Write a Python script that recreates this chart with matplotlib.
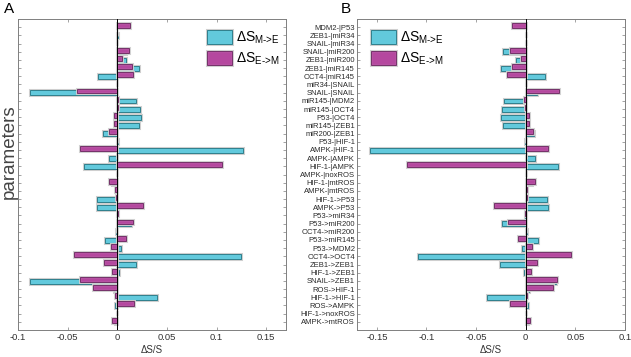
import numpy as np
import matplotlib
matplotlib.use("Agg")
import matplotlib.pyplot as plt
import matplotlib.patheffects as pe

plt.rcParams["font.family"] = ["Liberation Sans", "DejaVu Sans"]
plt.rcParams["mathtext.fontset"] = "custom"
plt.rcParams["mathtext.rm"] = "Liberation Sans"
plt.rcParams["mathtext.it"] = "Liberation Sans"

params = [
    "MDM2-|P53", "ZEB1-|miR34", "SNAIL-|miR34", "SNAIL-|miR200", "ZEB1-|miR200",
    "ZEB1-|miR145", "OCT4-|miR145", "miR34-|SNAIL", "SNAIL-|SNAIL", "miR145-|MDM2",
    "miR145-|OCT4", "P53-|OCT4", "miR145-|ZEB1", "miR200-|ZEB1", "P53-|HIF-1",
    "AMPK-|HIF-1", "AMPK-|AMPK", "HIF-1-|AMPK", "AMPK-|noxROS", "HIF-1-|mtROS",
    "AMPK-|mtROS", "HIF-1->P53", "AMPK->P53", "P53->miR34", "P53->miR200",
    "OCT4->miR200", "P53->miR145", "P53->MDM2", "OCT4->OCT4", "ZEB1->ZEB1",
    "HIF-1->ZEB1", "SNAIL->ZEB1", "ROS->HIF-1", "HIF-1->HIF-1", "ROS->AMPK",
    "HIF-1->noxROS", "AMPK->mtROS",
]

# panel A
a_m_to_e = [
    0, 0.0005, 0, 0.0088, 0.0092, 0.022, -0.019, 0, -0.0877, 0.019,
    0.023, 0.0238, 0.0214, -0.014, 0.001, 0.127, -0.0088, -0.0337, 0, -0.0057,
    -0.001, -0.0205, -0.0205, 0, 0.0136, -0.001, -0.0125, 0.0037, 0.1245, 0.0184,
    0.0017, -0.0877, -0.003, 0.040, -0.002, 0, -0.0024,
]
a_e_to_m = [
    0.0133, 0, 0, 0.012, 0.0048, 0.0146, 0.0163, 0, -0.0408, 0.001,
    0.0005, -0.003, -0.003, -0.008, 0, -0.038, 0, 0.1054, 0, -0.008,
    -0.002, -0.0017, 0.0256, 0.001, 0.0163, 0, 0.0085, -0.0065, -0.0435, -0.0133,
    -0.0048, -0.038, -0.0245, -0.0024, 0.0166, 0, -0.0048,
]

# panel B
b_m_to_e = [
    0, 0, 0, -0.0226, -0.0101, -0.0247, 0.0193, 0, 0.0111, -0.0216,
    -0.0236, -0.0247, -0.0233, 0.0084, -0.0007, -0.1564, 0.0091, 0.0328, 0, 0.006,
    0.001, 0.0213, 0.0223, -0.0005, -0.0243, 0.001, 0.0128, -0.0041, -0.1088, -0.0257,
    -0.002, 0.0304, 0.0034, -0.0392, 0.002, 0, 0.002,
]
b_e_to_m = [
    -0.0142, 0, 0, -0.0162, -0.0047, -0.0142, -0.0186, 0, 0.0338, -0.0014,
    -0.0005, 0.0034, 0.0034, 0.0074, 0, 0.0226, 0, -0.1196, 0, 0.0095,
    0.0017, 0.0014, -0.0321, -0.0005, -0.0182, 0, -0.0081, 0.0061, 0.0459, 0.0111,
    0.0051, 0.0318, 0.0277, 0.001, -0.0159, 0, 0.0047,
]

CYAN = "#62c9dc"
CYAN_EDGE = "#2f7f8c"
MAG = "#b5479f"
MAG_EDGE = "#6e2a63"
GREY = "#7f7f7f"


def draw_panel(ax, m_to_e, e_to_m, xlim, xticks, xticklabels, show_labels):
    y = np.arange(1, len(params) + 1)
    halo = [pe.withStroke(linewidth=2.2, foreground="#cfcfcf")]
    b1 = ax.barh(y + 0.02, m_to_e, height=0.6, color=CYAN, edgecolor=CYAN_EDGE,
                 linewidth=0.7, label=r"$\Delta$S$_{\mathrm{M\text{->}E}}$", zorder=2)
    b2 = ax.barh(y - 0.2, e_to_m, height=0.6, color=MAG, edgecolor=MAG_EDGE,
                 linewidth=0.7, alpha=0.92, label=r"$\Delta$S$_{\mathrm{E\text{->}M}}$", zorder=3)
    for p in list(b1) + list(b2):
        p.set_path_effects(halo)
    ax.axvline(0, color="black", linewidth=0.7, zorder=4)
    ax.set_xlim(*xlim)
    ax.set_ylim(len(params) + 1, 0)
    ax.set_xticks(xticks)
    ax.set_xticklabels(xticklabels, fontsize=6.8, color="#333333")
    ax.set_yticks(y)
    if show_labels:
        ax.set_yticklabels(params, fontsize=5.5, color="#2a2a2a")
    else:
        ax.set_yticklabels([])
    ax.tick_params(direction="in", length=2.5, width=0.5, color=GREY,
                   top=True, right=True, pad=2)
    ax.tick_params(axis="y", pad=1.5)
    for s in ax.spines.values():
        s.set_color(GREY)
        s.set_linewidth(0.7)
    ax.set_xlabel("ΔS/S", fontsize=7, color="#333333", labelpad=2)


fig = plt.figure(figsize=(6.31, 3.57), dpi=100)
axA = fig.add_axes([18 / 631, 27 / 357, 268 / 631, 311 / 357])
axB = fig.add_axes([357 / 631, 27 / 357, 268 / 631, 311 / 357])

draw_panel(axA, a_m_to_e, a_e_to_m, (-0.1, 0.17),
           [-0.1, -0.05, 0, 0.05, 0.1, 0.15],
           ["-0.1", "-0.05", "0", "0.05", "0.1", "0.15"], False)
draw_panel(axB, b_m_to_e, b_e_to_m, (-0.17, 0.1),
           [-0.15, -0.1, -0.05, 0, 0.05, 0.1],
           ["-0.15", "-0.1", "-0.05", "0", "0.05", "0.1"], True)

leg_kw = dict(loc="upper left", frameon=False, fontsize=10, handlelength=1.8,
              handleheight=1.15, labelspacing=0.3, handletextpad=0.3,
              borderpad=0, borderaxespad=0)
axA.legend(bbox_to_anchor=(207 / 631, 1 - 30 / 357), bbox_transform=fig.transFigure, **leg_kw)
axB.legend(bbox_to_anchor=(371 / 631, 1 - 30 / 357), bbox_transform=fig.transFigure, **leg_kw)

fig.text(1 / 631, 0.575, "parameters", rotation=90, ha="left", va="center",
         fontsize=13.5, color="#444444")
fig.text(4 / 631, 1 - 2 / 357, "A", ha="left", va="top", fontsize=11)
fig.text(341 / 631, 1 - 2 / 357, "B", ha="left", va="top", fontsize=11)

fig.savefig("out.png", dpi=100)
